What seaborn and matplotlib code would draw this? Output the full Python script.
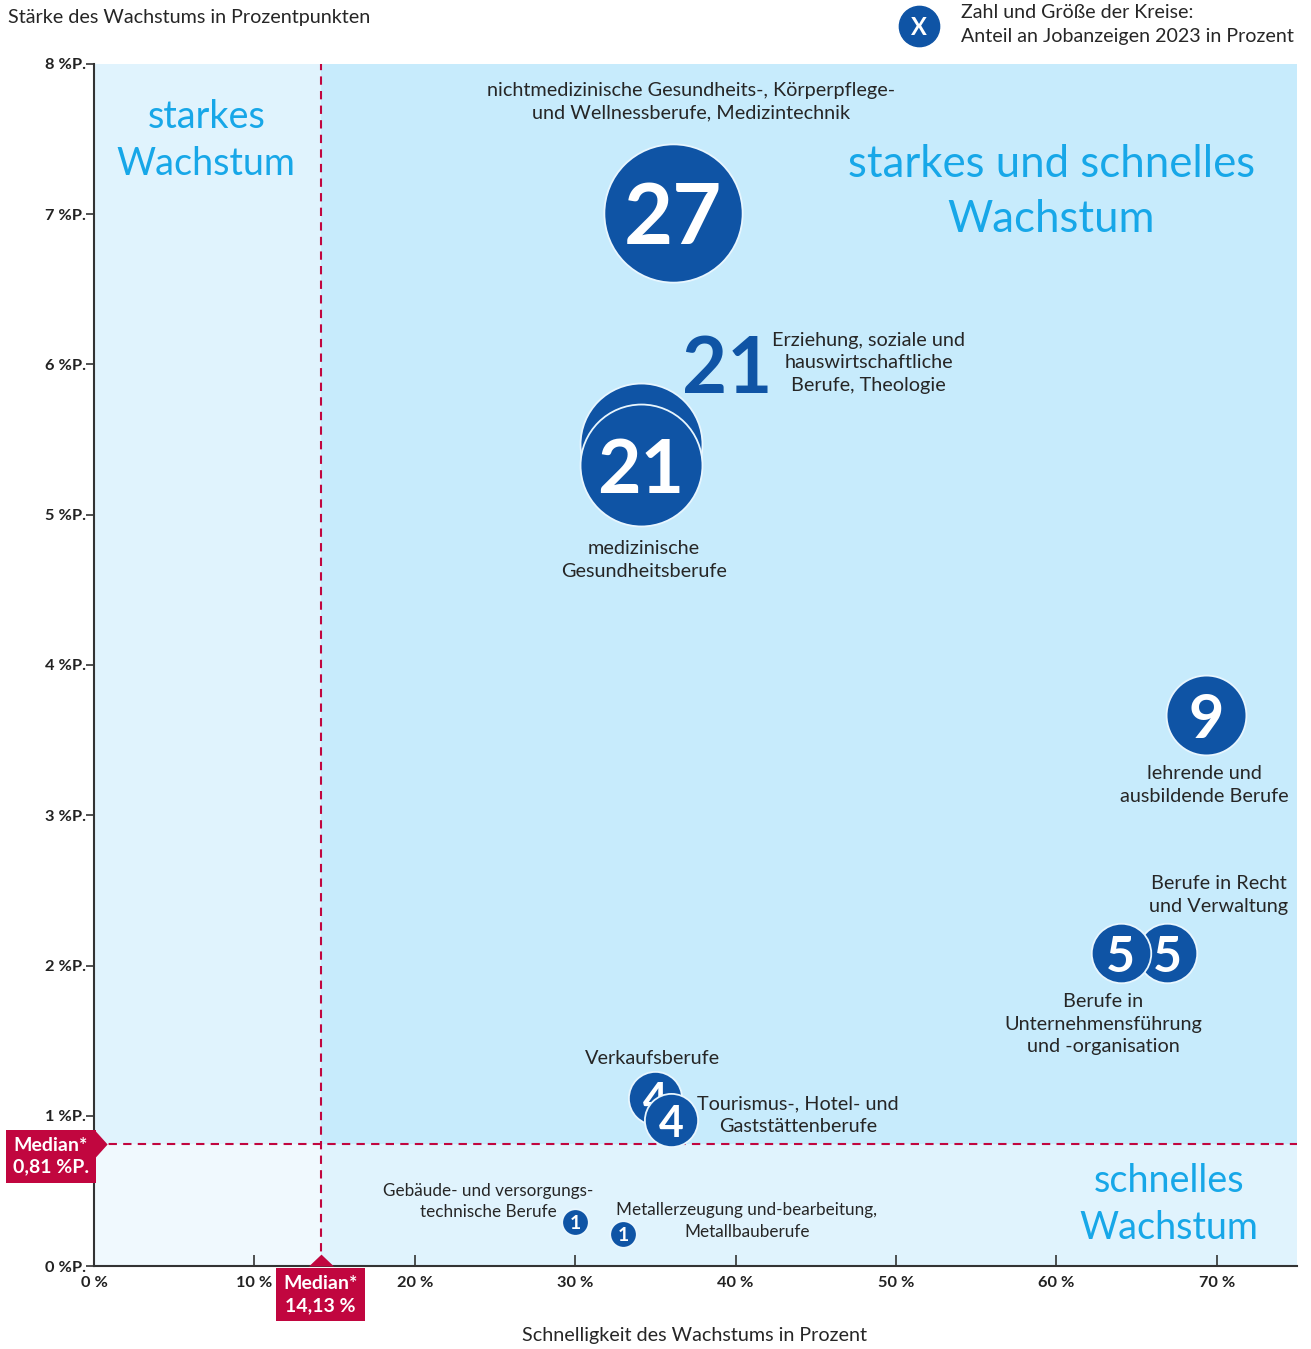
import pandas as pd
import matplotlib.pyplot as plt
import seaborn as sns

# Daten: Berufsgruppen, Schnelligkeit (x, %), Staerke (y, %P.), Anteil an Jobanzeigen 2023 (%)
berufe = [
    "Erziehung, soziale und\nhauswirtschaftliche\nBerufe, Theologie",
    "medizinische\nGesundheitsberufe",
    "nichtmedizinische Gesundheits-, Körperpflege-\nund Wellnessberufe, Medizintechnik",
    "lehrende und\nausbildende Berufe",
    "Berufe in Recht\nund Verwaltung",
    "Berufe in\nUnternehmensführung\nund -organisation",
    "Verkaufsberufe",
    "Tourismus-, Hotel- und\nGaststättenberufe",
    "Gebäude- und versorgungs-\ntechnische Berufe",
    "Metallerzeugung und-bearbeitung,\nMetallbauberufe",
]
schnelligkeit = [34.1, 34.1, 36.1, 69.35, 66.9, 64.0, 35.0, 36.0, 30.0, 33.0]
staerke = [5.47, 5.33, 7.01, 3.67, 2.08, 2.08, 1.12, 0.97, 0.29, 0.21]
anteil = [21, 21, 27, 9, 5, 5, 4, 4, 1, 1]

median_x = 14.13
median_y = 0.81

x_ticks = [0, 10, 20, 30, 40, 50, 60, 70]
y_ticks = [0, 1, 2, 3, 4, 5, 6, 7, 8]

# Positionen der Beschriftungen (Datenkoordinaten)
label_x = [48.3, 34.3, 37.2, 69.2, 70.1, 62.9, 34.8, 43.9, 24.6, 40.7]
label_y = [6.01, 4.70, 7.75, 3.20, 2.47, 1.61, 1.38, 1.005, 0.43, 0.30]
label_size = [14.3, 14.3, 14.3, 14.3, 14.3, 14.3, 14.3, 14.3, 12.3, 12.3]
number_size = [56, 54, 61, 44, 36, 36, 31, 31, 14, 14]

df = pd.DataFrame({"beruf": berufe, "x": schnelligkeit, "y": staerke, "anteil": anteil})

BLUE = "#0f54a5"
RED = "#c1063f"
LIGHT = "#17a7e8"
TEXT = "#262626"

sns.set_theme(style="white")
plt.rcParams["font.family"] = ["Lato", "DejaVu Sans"]

fig = plt.figure(figsize=(13.11, 13.49), dpi=100)
ax = fig.add_axes([0.0717, 0.0615, 0.9176, 0.8911])
ax.set_xlim(0, 75)
ax.set_ylim(0, 8)

# Quadranten-Hintergruende
ax.fill_between([0, median_x], median_y, 8, color="#e0f3fd", lw=0, zorder=0)
ax.fill_between([median_x, 75], median_y, 8, color="#c7ebfc", lw=0, zorder=0)
ax.fill_between([0, median_x], 0, median_y, color="#f0f9fe", lw=0, zorder=0)
ax.fill_between([median_x, 75], 0, median_y, color="#e0f3fd", lw=0, zorder=0)

ax.axvline(median_x, color=RED, lw=1.5, ls=(0, (4, 3)), zorder=1)
ax.axhline(median_y, color=RED, lw=1.5, ls=(0, (4, 3)), zorder=1)

# Quadranten-Titel
ax.text(7.0, 7.49, "starkes\nWachstum", color=LIGHT, fontsize=27.2, ha="center", va="center", linespacing=1.36)
ax.text(59.7, 7.15, "starkes und schnelles\nWachstum", color=LIGHT, fontsize=31.5, ha="center", va="center", linespacing=1.42)
ax.text(67.0, 0.41, "schnelles\nWachstum", color=LIGHT, fontsize=27.2, ha="center", va="center", linespacing=1.36)

# Kreise
for i, row in df.iterrows():
    sns.scatterplot(data=df.iloc[[i]], x="x", y="y", size="anteil", sizes=(367, 367 * 27),
                    size_norm=(1, 27), color=BLUE, edgecolor="#e8f6fe", linewidth=1.3,
                    legend=False, ax=ax, zorder=3 + 2 * i, clip_on=False)
    if i > 0:
        ax.text(row["x"], row["y"], str(row["anteil"]), color="white", fontsize=number_size[i],
                fontweight="bold", ha="center", va="center_baseline", zorder=4 + 2 * i)
    ax.text(label_x[i], label_y[i], row["beruf"], color=TEXT, fontsize=label_size[i],
            ha="center", va="center", linespacing=1.4, zorder=30)

# grosse Zahl fuer Erziehung (Kreis liegt verdeckt)
ax.text(39.45, 6.0, str(anteil[0]), color=BLUE, fontsize=number_size[0], fontweight="bold",
        ha="center", va="center_baseline", zorder=30)

# Achsen
ax.set_xticks(x_ticks)
ax.set_xticklabels([f"{v} %" for v in x_ticks], fontweight="bold", fontsize=11.8, color="#222222")
ax.set_yticks(y_ticks)
ax.set_yticklabels([f"{v} %P." for v in y_ticks], fontweight="bold", fontsize=11.8, color="#222222")
ax.tick_params(axis="x", direction="in", length=8, width=1.2, color="#333333", pad=7, bottom=True)
ax.tick_params(axis="y", direction="out", length=6, width=1.2, color="#333333", pad=0, left=True)
ax.set_xlabel("")
ax.set_ylabel("")
for side in ["top", "right"]:
    ax.spines[side].set_visible(False)
for side in ["left", "bottom"]:
    ax.spines[side].set_color("#333333")
    ax.spines[side].set_linewidth(1.5)
    ax.spines[side].set_zorder(40)

fig.text(8 / 1311, 1 - 17 / 1349, "Stärke des Wachstums in Prozentpunkten", fontsize=14.2,
         color=TEXT, ha="left", va="center")
fig.text(695 / 1311, 1 - 1336 / 1349, "Schnelligkeit des Wachstums in Prozent", fontsize=14.2,
         color=TEXT, ha="center", va="center")

# Legende
ax.plot([0.686], [1.0316], marker="o", ms=29, color=BLUE, transform=ax.transAxes, clip_on=False)
ax.text(0.686, 1.0316, "X", color="white", fontsize=17, fontweight="bold", ha="center",
        va="center_baseline", transform=ax.transAxes)
ax.text(0.7207, 1.0325, "Zahl und Größe der Kreise:\nAnteil an Jobanzeigen 2023 in Prozent",
        fontsize=14.1, color=TEXT, ha="left", va="center", transform=ax.transAxes, linespacing=1.5)

# Median-Markierungen
ax.annotate(f"Median*\n{median_y:.2f} %P.".replace(".", ",", 1), xy=(0, median_y),
            xycoords=("axes fraction", "data"), xytext=(-31, -8.6), textcoords="offset points",
            ha="center", va="center", color="white", fontsize=14, fontweight="bold",
            linespacing=1.33, annotation_clip=False,
            bbox=dict(boxstyle="square,pad=0.36", fc=RED, ec="none"), zorder=50)
ax.plot([0], [median_y], marker=[(0, -1), (0, 1), (0.9, 0)], ms=21, color=RED, mew=0,
        transform=ax.get_yaxis_transform(), clip_on=False, zorder=50)
ax.annotate(f"Median*\n{median_x:.2f} %".replace(".", ","), xy=(median_x, 0),
            xycoords=("data", "axes fraction"), xytext=(0, -20.5), textcoords="offset points",
            ha="center", va="center", color="white", fontsize=14, fontweight="bold",
            linespacing=1.33, annotation_clip=False,
            bbox=dict(boxstyle="square,pad=0.38", fc=RED, ec="none"), zorder=50)
ax.plot([median_x], [0], marker=[(-1, 0), (1, 0), (0, 0.95)], ms=18, color=RED, mew=0,
        transform=ax.get_xaxis_transform(), clip_on=False, zorder=50)

fig.savefig("out.png", dpi=100)
